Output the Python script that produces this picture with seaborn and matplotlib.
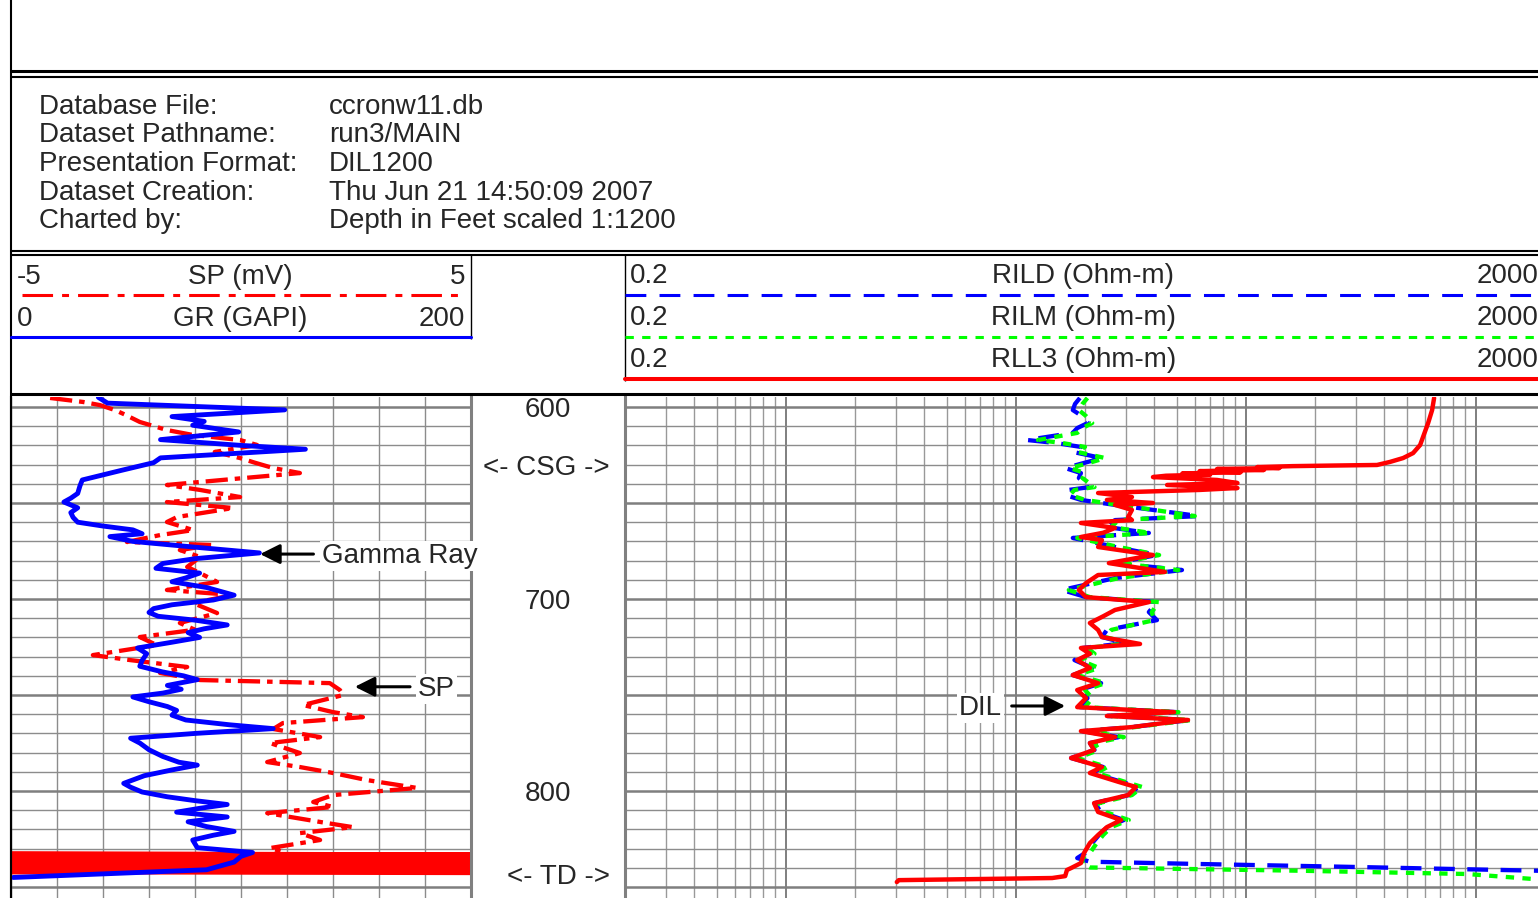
import matplotlib
matplotlib.use("Agg")
import matplotlib.pyplot as plt
import matplotlib.ticker as mticker
from matplotlib.transforms import offset_copy
import numpy as np
import seaborn as sns

# ---- header info
header_keys = ["Database File:", "Dataset Pathname:", "Presentation Format:",
               "Dataset Creation:", "Charted by:"]
header_vals = ["ccronw11.db", "run3/MAIN", "DIL1200",
               "Thu Jun 21 14:50:09 2007", "Depth in Feet scaled 1:1200"]

# ---- depth labels
depth_ticks = [600, 700, 800]
csg_depth = 630
td_depth = 843

# ---- Gamma ray (GAPI)
gr_depth = [595, 598, 601.5, 605, 607.5, 609.5, 613, 617, 620, 622,
            626.5, 629, 633, 638, 641, 645, 647.5, 649.5, 652.5, 655,
            657.5, 660, 662, 664, 666, 667.5, 670, 673, 676, 679,
            681.5, 684, 686.5, 689, 691, 694, 698, 700.5, 703, 705,
            707, 709, 711, 713.5, 715.5, 717.5, 720, 722.5, 725.5, 728.5,
            732, 735, 738, 740, 742, 745, 747, 749, 751, 753.5,
            756, 758, 760.5, 763, 765.5, 767.5, 770, 772.5, 775, 778.5,
            782, 785, 786.5, 789, 792, 796, 798, 800.5, 803, 805,
            807, 809, 811, 813.5, 816, 818.5, 821, 823, 825.5, 827.5,
            829.5, 832, 834, 837, 841, 845]
gr_api = [38, 42, 119, 70, 84, 79, 99, 65, 100, 128,
          65, 62, 48, 31, 30, 29, 26, 23, 29, 26,
          27, 29, 40, 53, 57, 43, 53, 80, 108, 80,
          66, 63, 82, 76, 70, 85, 97, 88, 70, 62,
          60, 64, 80, 94, 84, 77, 82, 70, 55, 59,
          57, 56, 66, 75, 81, 68, 74, 66, 53, 60,
          68, 72, 70, 76, 95, 114, 80, 52, 56, 60,
          66, 73, 81, 70, 58, 49, 52, 57, 68, 80,
          94, 82, 72, 94, 77, 85, 97, 88, 79, 80,
          81, 105, 100, 97, 85, 1]

# ---- Spontaneous potential (mV)
sp_depth = [595.3, 597.4, 599, 601.6, 604, 607.8, 612, 614.6, 617.2, 619.8,
            623.4, 626.6, 629, 631.8, 634.4, 637.5, 640.6, 643.2, 646.9, 649.5,
            652.6, 657.3, 659.9, 664.1, 666.7, 670.3, 671.9, 674.5, 678.1, 683.3,
            686.5, 691.1, 695.3, 697.9, 702.1, 707.3, 712.5, 716, 719.8, 724,
            729.2, 731.8, 735.4, 738.5, 742.2, 743.8, 747.4, 750, 755.2, 758.9,
            761.5, 764.6, 767.7, 771.9, 775, 780.2, 784.9, 787.5, 790.6, 794.3,
            798.4, 802.1, 805.7, 808.3, 811.5, 816.1, 818.8, 821.9, 825.5, 829.7,
            832.3]
sp_mv = [-4.15, -3.43, -3.07, -2.74, -2.52, -2.2, -1.61, -1.04, -0.02, 0.35,
         -0.57, -0.02, 0.3, 0.7, 1.28, -0.17, -1.61, -0.89, -0.02, -1.61,
         -0.17, -1.39, -1.61, -1.04, -1.76, -2.48, -0.61, -1.33, -0.89, -1.17,
         -0.89, -0.52, -1.61, -0.17, -1.04, -0.52, -1.33, -1.0, -2.2, -1.83,
         -3.22, -2.41, -1.17, -1.76, -0.89, 1.93, 2.15, 2.22, 1.35, 2.0,
         2.65, 0.91, 0.7, 1.72, 0.63, 1.28, 0.57, 1.28, 2.0, 2.74,
         3.83, 2.0, 1.57, 2.0, 0.57, 1.72, 2.43, 1.28, 1.72, 0.63,
         1.0]
# SP swinging across the full scale just above TD
sp_td_depth = [832.4, 833.1, 833.8, 834.5, 835.2, 835.9, 836.6, 837.3,
               838.0, 838.7, 839.4, 840.1, 840.8, 841.5, 842.2, 842.7]
sp_td_mv = [-5.5, 5.5, -5.5, 5.5, -5.5, 5.5, -5.5, 5.5,
            -5.5, 5.5, -5.5, 5.5, -5.5, 5.5, -5.5, 5.5]

# ---- RLL3 (Ohm-m)
rll3_depth = [595.3, 601.6, 608.3, 615.6, 619.8, 624, 626.6, 628.6, 630.2, 630.5,
              630.8, 631.3, 631.8, 632.3, 632.8, 633.4, 634, 634.6, 635.2, 635.8,
              636.5, 638, 639.6, 640.6, 642.2, 643.2, 644.8, 646.9, 648.4, 650,
              651, 653.6, 657.3, 658.9, 660.4, 663, 665.5, 667.7, 669.3, 672.9,
              677.1, 681.3, 685.9, 687.5, 691.7, 695.3, 699, 701.6, 705.7, 709,
              712.5, 716.1, 719.8, 723.4, 725.5, 728.5, 731.8, 735.9, 739.6, 743.8,
              747.4, 751.6, 756.3, 758.9, 760.9, 763, 766.7, 768.8, 771.9, 775,
              778.6, 782.8, 787.5, 790.6, 795.3, 797.9, 802.1, 806.3, 810.9, 815.1,
              818.8, 822.9, 827.1, 832.3, 837.5, 840.1, 841.1, 844.3, 845.3, 846.4,
              847.4]
rll3_ohm = [659, 646, 621, 590, 573, 534, 483, 424, 372, 239,
            160, 112, 140, 75, 120, 63, 95, 53, 70, 45,
            39.5, 75, 92, 45.5, 92, 63, 22.8, 32, 24.9, 39.5,
            27, 32, 30.8, 32, 19.2, 27, 24, 19.2, 23.7, 22.8,
            39.5, 25.4, 44.5, 22.8, 20.2, 18.8, 20.2, 37.9, 27, 24,
            21, 22.8, 23.7, 34.7, 19.2, 21, 18.5, 21, 17.7, 22.8,
            18.5, 20.2, 18.5, 48.8, 24.9, 56.1, 32, 19.2, 27, 21,
            21.9, 17.4, 23.7, 21, 28.1, 33.3, 30.8, 21.9, 22.8, 28.7,
            24.9, 22.8, 21, 19.8, 19.2, 17.4, 16.7, 16.4, 14.4, 3.1,
            3.04]

# ---- RILD (Ohm-m)
rild_depth = [595.3, 598.4, 601.6, 604.7, 608.3, 611, 613.5, 617.2, 618.8, 620.8,
              623.4, 626.6, 629, 631.8, 634.4, 637, 641.7, 643.2, 645.8, 648.4,
              651, 653.6, 656.8, 658.9, 662.5, 665.6, 668.2, 672.9, 677.1, 681.3,
              684.9, 689.1, 695.3, 699, 701.6, 706.8, 711, 716.1, 719.8, 723,
              725.5, 728.5, 731.8, 735.9, 739.6, 743.8, 747.4, 751.6, 756.3, 758.9,
              760.9, 763, 766.7, 768.8, 771.9, 775, 778.6, 782.8, 787.5, 790.6,
              795.3, 797.9, 802.1, 806.3, 810.9, 815.1, 818.8, 822.9, 827.1, 832.3,
              834.9, 836.8, 838, 839.5, 841.5, 842.5]
rild_ohm = [19.0, 18.1, 17.7, 19.4, 20.6, 18.5, 17.7, 11.2, 15.0, 19.2,
            17.7, 23.7, 20, 16.4, 19.2, 18.8, 21, 17.0, 16.4, 19.2,
            27, 39.5, 62.6, 27, 24.9, 37.9, 17.7, 27, 41.1, 27,
            52.8, 27, 15.9, 20.2, 41.1, 37.9, 41.1, 24.9, 23.7, 30,
            19.5, 21, 18.0, 21.5, 17.7, 23.5, 19, 20.5, 19, 50,
            25, 57, 32, 19.5, 28, 21, 22, 17.4, 24, 21.5,
            29, 34, 31, 22, 23.5, 29.5, 25, 23, 21.5, 20,
            18.5, 21, 63, 288, 1862, 3500]

# ---- RILM (Ohm-m)
rilm_depth = [595.3, 598.4, 601.6, 604.7, 608.3, 611, 613.5, 617.2, 618.8, 620.8,
              623.4, 626.6, 629, 631.8, 634.4, 637, 641.7, 643.2, 645.8, 648.4,
              651, 653.6, 656.8, 658.9, 662.5, 665.6, 668.2, 672.9, 677.1, 681.3,
              684.9, 689.1, 695.3, 699, 701.6, 706.8, 711, 716.1, 719.8, 723,
              725.5, 728.5, 731.8, 735.9, 739.6, 743.8, 747.4, 751.6, 756.3, 758.9,
              760.9, 763, 766.7, 768.8, 771.9, 775, 778.6, 782.8, 787.5, 790.6,
              795.3, 797.9, 802.1, 806.3, 810.9, 815.1, 818.8, 822.9, 827.1, 832.3,
              835, 838, 839.8, 841.5, 843.2, 846, 847]
rilm_ohm = [20.5, 19.5, 18.8, 20.2, 21.5, 19.5, 18.5, 12.5, 16.0, 20.0,
            18.5, 24.5, 21, 17.2, 20, 19.5, 22, 18, 17.2, 20,
            28, 40, 60, 28, 26, 38.5, 18.5, 28, 42, 28,
            51, 28, 17, 21, 42, 39, 40, 26, 24.5, 31,
            20.5, 22, 19, 23, 18.5, 24.5, 20, 21.5, 20, 51,
            26, 58, 33, 20.5, 29.5, 22, 23, 18.5, 25, 22.5,
            30, 35.5, 32, 23, 24.5, 31, 26, 24, 22.5, 21,
            19.5, 19.5, 21, 172, 916, 1862, 3500]

RED, BLUE, GREEN = "#ff0000", "#0000ff", "#00ff00"
GRID = "#8c8c8c"

sns.set_style("white")
plt.rcParams["font.family"] = ["Liberation Sans", "DejaVu Sans"]
plt.rcParams["lines.scale_dashes"] = False
FS = 20

W, H = 1538, 898
fig = plt.figure(figsize=(W / 100, H / 100), dpi=100)


def px_axes(x0, y0, x1, y1, **kw):
    return fig.add_axes([x0 / W, 1 - y1 / H, (x1 - x0) / W, (y1 - y0) / H], **kw)


D_TOP, D_BOT = 594.8, 855.7


def depth_grid(ax):
    ax.set_ylim(D_BOT, D_TOP)
    ax.yaxis.set_major_locator(mticker.MultipleLocator(50))
    ax.yaxis.set_minor_locator(mticker.MultipleLocator(10))
    ax.grid(which="major", axis="y", color="#7f7f7f", linewidth=1.8)
    ax.grid(which="minor", axis="y", color=GRID, linewidth=1.0)
    ax.tick_params(which="both", length=0, labelbottom=False, labelleft=False,
                   labeltop=False, labelright=False)
    ax.set_axisbelow(True)


# ---- left track: SP (base) + GR (twin, on top)
ax_sp = px_axes(11, 397, 471, 898)
depth_grid(ax_sp)
sns.lineplot(x=sp_mv, y=sp_depth, sort=False, estimator=None, ax=ax_sp,
             color=RED, linewidth=3.1, linestyle=(0, (16, 5, 4, 5)))
sns.lineplot(x=sp_td_mv, y=sp_td_depth, sort=False, estimator=None, ax=ax_sp,
             color=RED, linewidth=3.1)
ax_sp.set_xlim(-5, 5)
ax_sp.set_ylim(D_BOT, D_TOP)
ax_sp.xaxis.set_major_locator(mticker.MultipleLocator(1))
ax_sp.grid(which="major", axis="x", color=GRID, linewidth=1.0)
ax_sp.set_xlabel("")
ax_sp.set_ylabel("")
ax_sp.spines["left"].set_color("black")
ax_sp.spines["left"].set_linewidth(1.5)
ax_sp.spines["right"].set_color("#808080")
ax_sp.spines["right"].set_linewidth(2.2)
ax_sp.spines["top"].set_visible(False)
ax_sp.spines["bottom"].set_visible(False)

ax_gr = ax_sp.twiny()
sns.lineplot(x=gr_api, y=gr_depth, sort=False, estimator=None, ax=ax_gr,
             color=BLUE, linewidth=3.5)
ax_gr.set_xlim(0, 200)
ax_gr.set_ylim(D_BOT, D_TOP)
ax_gr.set_xlabel("")
ax_gr.set_ylabel("")
ax_gr.tick_params(which="both", length=0, labeltop=False, labelbottom=False,
                  labelleft=False)
for s in ax_gr.spines.values():
    s.set_visible(False)

arrow = dict(arrowstyle="-|>,head_length=0.6,head_width=0.3", color="black",
             linewidth=2.2, mutation_scale=20, shrinkA=0, shrinkB=0)
box = dict(facecolor="white", edgecolor="none", pad=1.5)
ax_gr.annotate("", xy=(108.3, 676.6), xytext=(131.5, 676.6), arrowprops=arrow,
               annotation_clip=False)
ax_gr.text(135.2, 681.2, "Gamma Ray", fontsize=FS, va="baseline", ha="left",
           bbox=box, clip_on=False)
ax_gr.annotate("", xy=(149.5, 745.7), xytext=(173.5, 745.7), arrowprops=arrow,
               annotation_clip=False)
ax_gr.text(177, 750.5, "SP", fontsize=FS, va="baseline", ha="left", bbox=box,
           clip_on=False)

# ---- depth column
ax_dep = px_axes(471, 397, 625, 898)
ax_dep.set_xlim(0, 1)
ax_dep.set_ylim(D_BOT, D_TOP)
ax_dep.axis("off")
lab_tr = offset_copy(ax_dep.transData, fig=fig, x=0, y=-10, units="dots")
for d in depth_ticks:
    ax_dep.text(0.497, d, str(d), ha="center", va="baseline", fontsize=FS,
                transform=lab_tr)
ax_dep.text(0.9, csg_depth, "<- CSG ->", ha="right", va="baseline", fontsize=FS,
            transform=lab_tr)
ax_dep.text(0.905, td_depth, "<- TD ->", ha="right", va="baseline", fontsize=FS,
            transform=lab_tr)

# ---- right track: resistivity (log)
ax_res = px_axes(625, 397, 1545, 898)
ax_res.set_xscale("log")
depth_grid(ax_res)
sns.lineplot(x=rild_ohm, y=rild_depth, sort=False, estimator=None, ax=ax_res,
             color=BLUE, linewidth=3.1, linestyle=(0, (15, 9)))
sns.lineplot(x=rilm_ohm, y=rilm_depth, sort=False, estimator=None, ax=ax_res,
             color=GREEN, linewidth=3.1, linestyle=(0, (6, 6)))
sns.lineplot(x=rll3_ohm, y=rll3_depth, sort=False, estimator=None, ax=ax_res,
             color=RED, linewidth=3.2)
ax_res.set_xlim(0.2, 2000)
ax_res.set_ylim(D_BOT, D_TOP)
ax_res.xaxis.set_major_locator(mticker.LogLocator(base=10, subs=(1.0,), numticks=20))
ax_res.xaxis.set_minor_locator(mticker.LogLocator(base=10, subs=np.arange(2, 10),
                                                  numticks=40))
ax_res.grid(which="major", axis="x", color="#7f7f7f", linewidth=1.4)
ax_res.grid(which="minor", axis="x", color="#999999", linewidth=1.0)
ax_res.tick_params(which="both", length=0, labelbottom=False, labelleft=False)
ax_res.set_xlabel("")
ax_res.set_ylabel("")
ax_res.spines["left"].set_color("#808080")
ax_res.spines["left"].set_linewidth(2.2)
for k in ("top", "bottom", "right"):
    ax_res.spines[k].set_visible(False)
ax_res.annotate("", xy=(16.4, 755.7), xytext=(9.6, 755.7), arrowprops=arrow,
                annotation_clip=False)
ax_res.text(8.72, 760.4, "DIL", fontsize=FS, va="baseline", ha="right", bbox=box)

# ---- overlay: frames, header block, track headers
ov = fig.add_axes([0, 0, 1, 1], zorder=10)
ov.set_xlim(0, W)
ov.set_ylim(H, 0)
ov.axis("off")

k = dict(color="black", solid_capstyle="butt")
ov.plot([10.5, 10.5], [0, H], linewidth=1.5, **k)
ov.plot([10, W], [71, 71], linewidth=2.2, **k)
ov.plot([10, W], [76.5, 76.5], linewidth=1.5, **k)
ov.plot([10, W], [251, 251], linewidth=1.5, **k)
ov.plot([10, W], [254.5, 254.5], linewidth=1.5, **k)
ov.plot([10, W], [393.5, 393.5], linewidth=2.2, **k)
ov.plot([471, 471], [254, 339], linewidth=1.0, **k)
ov.plot([625, 625], [254, 381], linewidth=1.0, **k)

for i, (key, val) in enumerate(zip(header_keys, header_vals)):
    y = 113.5 + i * 28.7
    ov.text(39, y, key, fontsize=FS, va="baseline")
    ov.text(329, y, val, fontsize=FS, va="baseline")

# left track header
ov.text(17, 283.5, "-5", fontsize=FS, va="baseline")
ov.text(240, 283.5, "SP (mV)", fontsize=FS, va="baseline", ha="center")
ov.text(465, 283.5, "5", fontsize=FS, va="baseline", ha="right")
ov.plot([22, 464], [295, 295], color=RED, linewidth=2.2,
        linestyle=(0, (22, 6.5, 5, 6.5)))
ov.text(17, 325.5, "0", fontsize=FS, va="baseline")
ov.text(240, 325.5, "GR (GAPI)", fontsize=FS, va="baseline", ha="center")
ov.text(465, 325.5, "200", fontsize=FS, va="baseline", ha="right")
ov.plot([11, 471], [336.5, 336.5], color=BLUE, linewidth=2.2)

# right track header
for y, name in zip([283, 325, 367], ["RILD (Ohm-m)", "RILM (Ohm-m)", "RLL3 (Ohm-m)"]):
    ov.text(630, y, "0.2", fontsize=FS, va="baseline")
    ov.text(1083.5, y, name, fontsize=FS, va="baseline", ha="center")
    ov.text(1538, y, "2000", fontsize=FS, va="baseline", ha="right")
ov.plot([625, W], [294.5, 294.5], color=BLUE, linewidth=2.2, linestyle=(0, (15, 9.5)))
ov.plot([625, W], [336.5, 336.5], color=GREEN, linewidth=2.2, linestyle=(0, (6, 6)))
ov.plot([625, W], [378.5, 378.5], color=RED, linewidth=2.9)

fig.savefig("out.png", dpi=100)
